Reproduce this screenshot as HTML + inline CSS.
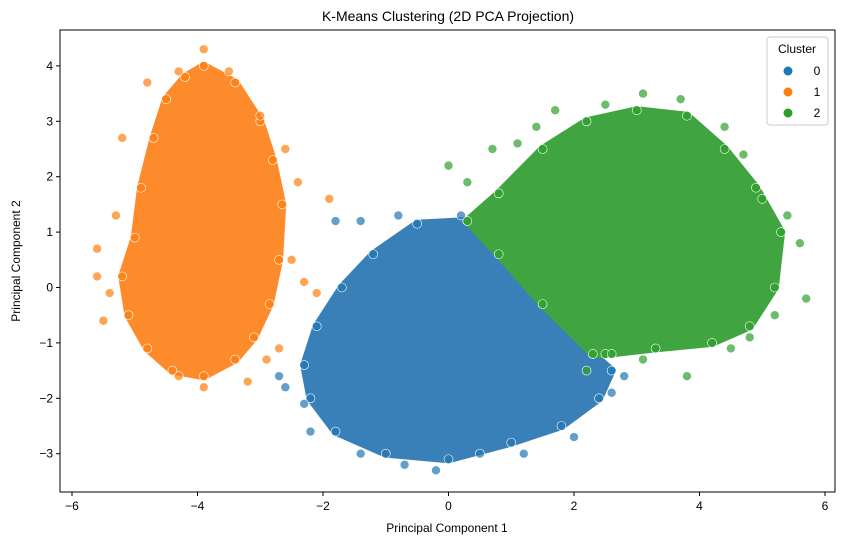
<!DOCTYPE html>
<html><head><meta charset="utf-8"><style>
html,body{margin:0;padding:0;background:#fff;}
svg{display:block;font-family:"Liberation Sans","DejaVu Sans",sans-serif;}
</style></head><body>
<svg id="chart" width="844" height="545" viewBox="0 0 844 545">
<text x="448" y="21" text-anchor="middle" font-size="14" fill="#000">K-Means Clustering (2D PCA Projection)</text>
<g id="plot"></g>
<g id="axes"></g>
<text x="447" y="532" text-anchor="middle" font-size="12" fill="#000">Principal Component 1</text>
<text x="20" y="261" text-anchor="middle" font-size="12" fill="#000" transform="rotate(-90 20 261)">Principal Component 2</text>
<g>
<rect x="767" y="37" width="61" height="88" rx="3" fill="#fff" fill-opacity="0.8" stroke="#ccc"/>
<text x="797" y="53" text-anchor="middle" font-size="12" fill="#000">Cluster</text>
<g><circle cx="788" cy="71" r="4.5" fill="#1f77b4"/><text x="817" y="75" text-anchor="middle" font-size="12">0</text></g>
<g><circle cx="788" cy="92" r="4.5" fill="#ff7f0e"/><text x="817" y="96" text-anchor="middle" font-size="12">1</text></g>
<g><circle cx="788" cy="113" r="4.5" fill="#2ca02c"/><text x="817" y="117" text-anchor="middle" font-size="12">2</text></g>
</g>
</svg>
<script>
const xTicks = [-6, -4, -2, 0, 2, 4, 6];
const yTicks = [-3, -2, -1, 0, 1, 2, 3, 4];
const clusterColors = ["#1f77b4", "#ff7f0e", "#2ca02c"];
const blobFills = ["#3a80b8", "#fd8b2c", "#40a540"];
// dense-region outlines (data coords) per cluster
const outline0 = [[0.3,1.2],[-0.5,1.15],[-1.2,0.6],[-1.7,0.0],[-2.1,-0.7],[-2.3,-1.4],[-2.2,-2.0],[-1.8,-2.6],[-1.0,-3.0],[0,-3.1],[1.0,-2.8],[1.8,-2.5],[2.4,-2.0],[2.6,-1.5],[2.3,-1.2],[1.5,-0.3],[0.8,0.6]];
const outline1 = [[-3.9,4.0],[-3.4,3.7],[-3.0,3.0],[-2.8,2.3],[-2.65,1.5],[-2.7,0.5],[-2.85,-0.3],[-3.1,-0.9],[-3.4,-1.3],[-3.9,-1.6],[-4.4,-1.5],[-4.8,-1.1],[-5.1,-0.5],[-5.2,0.2],[-5.0,0.9],[-4.9,1.8],[-4.7,2.7],[-4.5,3.4],[-4.2,3.8]];
const outline2 = [[0.3,1.2],[0.8,1.7],[1.5,2.5],[2.2,3.0],[3.0,3.2],[3.8,3.1],[4.4,2.5],[4.9,1.8],[5.3,1.0],[5.2,0.0],[4.8,-0.7],[4.2,-1.0],[3.3,-1.1],[2.5,-1.2],[2.3,-1.2],[1.5,-0.3],[0.8,0.6]];
// sparse points around each cluster
const pts0 = [[-1.8,1.2],[-1.4,1.2],[-0.8,1.3],[-2.7,-1.6],[-2.6,-1.8],[-2.3,-2.1],[-2.2,-2.6],[-1.4,-3.0],[-0.7,-3.2],[-0.2,-3.3],[0.5,-3.0],[1.2,-3.0],[2.0,-2.7],[2.6,-1.9],[2.8,-1.6],[0.2,1.3]];
const pts1 = [[-5.6,0.7],[-5.6,0.2],[-5.4,-0.1],[-5.3,1.3],[-5.2,2.7],[-4.8,3.7],[-4.3,3.9],[-3.9,4.3],[-3.5,3.9],[-3.0,3.1],[-2.6,2.5],[-2.4,1.9],[-2.5,0.5],[-2.3,0.1],[-1.9,1.6],[-2.9,-1.3],[-3.2,-1.7],[-3.9,-1.8],[-4.3,-1.6],[-5.5,-0.6],[-2.7,-1.1],[-2.1,-0.1]];
const pts2 = [[0,2.2],[0.3,1.9],[0.7,2.5],[1.1,2.6],[1.4,2.9],[1.7,3.2],[2.5,3.3],[3.1,3.5],[3.7,3.4],[4.4,2.9],[4.7,2.4],[5.0,1.6],[5.4,1.3],[5.6,0.8],[5.7,-0.2],[5.2,-0.5],[4.8,-0.9],[4.5,-1.1],[3.8,-1.6],[3.1,-1.3],[2.2,-1.5],[2.6,-1.2]];

const NS = "http://www.w3.org/2000/svg";
const L = 60, R = 835, T = 30, B = 492;
const xs = v => 448.5 + v * 62.75;
const ys = v => 287.5 - v * 55.4;
const plot = document.getElementById("plot");
const axes = document.getElementById("axes");
function mk(tag, attrs, parent) {
  const e = document.createElementNS(NS, tag);
  for (const k in attrs) e.setAttribute(k, attrs[k]);
  parent.appendChild(e);
  return e;
}
const outlines = [outline0, outline1, outline2];
const pts = [pts0, pts1, pts2];
[1, 0, 2].forEach(c => {
  const poly = mk("polygon", {points: outlines[c].map(p => xs(p[0]) + "," + ys(p[1])).join(" "), fill: blobFills[c], stroke: blobFills[c], "stroke-width": 8, "stroke-linejoin": "round"}, plot);
  
  
  outlines[c].concat(pts[c]).forEach(p => {
    const ci = mk("circle", {cx: xs(p[0]), cy: ys(p[1]), r: 4.5, fill: clusterColors[c], "fill-opacity": 0.7, stroke: "#fff", "stroke-width": 0.6}, plot);
    
    
  });
});
const frame = mk("rect", {x: L, y: T, width: R - L, height: B - T, fill: "none", stroke: "#000", "stroke-width": 1}, axes);


xTicks.forEach(t => {
  const x = xs(t);
  const g = mk("g", {}, axes);
  
  
  mk("line", {x1: x, x2: x, y1: B, y2: B + 4, stroke: "#000"}, g);
  const tx = mk("text", {x: x, y: B + 18, "text-anchor": "middle", "font-size": 12}, g);
  tx.textContent = t < 0 ? "\u2212" + (-t) : String(t);
});
yTicks.forEach(t => {
  const y = ys(t);
  const g = mk("g", {}, axes);
  
  
  mk("line", {x1: L - 4, x2: L, y1: y, y2: y, stroke: "#000"}, g);
  const tx = mk("text", {x: L - 7, y: y + 4, "text-anchor": "end", "font-size": 12}, g);
  tx.textContent = t < 0 ? "\u2212" + (-t) : String(t);
});
</script>
</body></html>
